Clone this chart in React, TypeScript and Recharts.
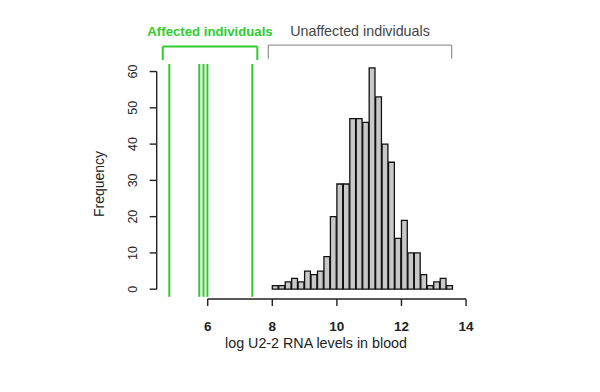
import { Bar, ComposedChart, ReferenceLine, XAxis, YAxis } from "recharts";

// histogram of unaffected individuals (bin width 0.2)
const binMids = [
  8.1, 8.3, 8.5, 8.7, 8.9, 9.1, 9.3, 9.5, 9.7, 9.9, 10.1, 10.3, 10.5, 10.7,
  10.9, 11.1, 11.3, 11.5, 11.7, 11.9, 12.1, 12.3, 12.5, 12.7, 12.9, 13.1, 13.3, 13.5,
];
const counts = [
  1, 1, 2, 3, 2, 5, 4, 5, 9, 20, 29, 29, 47, 47, 46, 61, 53, 40, 35, 14, 19, 10,
  10, 4, 1, 2, 3, 1,
];
// affected individuals, drawn as vertical lines
const affected = [4.81, 5.74, 5.87, 5.99, 7.38];

const xTicks = [6, 8, 10, 12, 14];
const yTicks = [0, 10, 20, 30, 40, 50, 60];

const GREEN = "#2fcc2f";
const FONT = "'Liberation Sans', Arial, sans-serif";

const data = binMids.map((x, i) => ({ x, n: counts[i] }));

const XTick = ({ x, y, payload }: any) => (
  <text x={x} y={y + 23} textAnchor="middle" fontSize={13.5} fontWeight="bold" fill="#222" fontFamily={FONT}>
    {payload.value}
  </text>
);

const YTick = ({ x, y, payload }: any) => (
  <text
    x={x - 11}
    y={y}
    transform={`rotate(-90, ${x - 11}, ${y})`}
    textAnchor="middle"
    fontSize={12.5}
    fill="#222"
    fontFamily={FONT}
  >
    {payload.value}
  </text>
);

export default function App() {
  return (
    <div style={{ position: "absolute", left: 0, top: 0, width: 600, height: 392, background: "#fff" }}>
      <ComposedChart
        width={600}
        height={392}
        data={data}
        margin={{ top: 40, right: 127.5, bottom: 63, left: 0 }}
      >
        <XAxis
          dataKey="x"
          type="number"
          domain={[4.42, 14.2]}
          ticks={xTicks}
          allowDataOverflow
          axisLine={false}
          tickLine={{ stroke: "#222", strokeWidth: 1.4 }}
          tickSize={7}
          height={30}
          tick={<XTick />}
        />
        <YAxis
          type="number"
          domain={[-2.7, 68.7]}
          ticks={yTicks}
          allowDataOverflow
          axisLine={false}
          tickLine={{ stroke: "#222", strokeWidth: 1.4 }}
          tickSize={7}
          width={156.7}
          tick={<YTick />}
        />
        {/* R-style axis lines spanning the tick range only */}
        <ReferenceLine
          segment={[{ x: 6, y: -2.7 }, { x: 14, y: -2.7 }]}
          stroke="#222"
          strokeWidth={1.4}
          ifOverflow="visible"
        />
        <ReferenceLine
          segment={[{ x: 4.42, y: 0 }, { x: 4.42, y: 60 }]}
          stroke="#222"
          strokeWidth={1.4}
          ifOverflow="visible"
        />
        <Bar
          dataKey="n"
          barSize={6.46}
          fill="#c8c8c8"
          stroke="#111"
          strokeWidth={1.3}
          isAnimationActive={false}
        />
        {affected.map((v) => (
          <ReferenceLine
            key={v}
            segment={[{ x: v, y: -2.1 }, { x: v, y: 62.1 }]}
            stroke={GREEN}
            strokeWidth={2}
            ifOverflow="visible"
          />
        ))}
        {/* brackets */}
        <ReferenceLine segment={[{ x: 4.607, y: 66.9 }, { x: 7.536, y: 66.9 }]} stroke={GREEN} strokeWidth={2} ifOverflow="visible" />
        <ReferenceLine segment={[{ x: 4.607, y: 66.9 }, { x: 4.607, y: 63.2 }]} stroke={GREEN} strokeWidth={2} ifOverflow="visible" />
        <ReferenceLine segment={[{ x: 7.536, y: 66.9 }, { x: 7.536, y: 63.2 }]} stroke={GREEN} strokeWidth={2} ifOverflow="visible" />
        <ReferenceLine segment={[{ x: 7.876, y: 67.3 }, { x: 13.554, y: 67.3 }]} stroke="#999" strokeWidth={1.3} ifOverflow="visible" />
        <ReferenceLine segment={[{ x: 7.876, y: 67.3 }, { x: 7.876, y: 63.6 }]} stroke="#999" strokeWidth={1.3} ifOverflow="visible" />
        <ReferenceLine segment={[{ x: 13.554, y: 67.3 }, { x: 13.554, y: 63.6 }]} stroke="#999" strokeWidth={1.3} ifOverflow="visible" />
      </ComposedChart>
      <svg width={600} height={392} style={{ position: "absolute", left: 0, top: 0, pointerEvents: "none" }}>
        <text x={210} y={36} textAnchor="middle" fontSize={13.2} fontWeight="bold" fill={GREEN} fontFamily={FONT}>
          Affected individuals
        </text>
        <text x={360} y={36} textAnchor="middle" fontSize={14.3} fill="#444" fontFamily={FONT}>
          Unaffected individuals
        </text>
        <text x={316} y={348} textAnchor="middle" fontSize={14.3} fill="#222" fontFamily={FONT}>
          log U2-2 RNA levels in blood
        </text>
        <text
          x={104}
          y={184}
          transform="rotate(-90, 104, 184)"
          textAnchor="middle"
          fontSize={14}
          fill="#222"
          fontFamily={FONT}
        >
          Frequency
        </text>
      </svg>
    </div>
  );
}
